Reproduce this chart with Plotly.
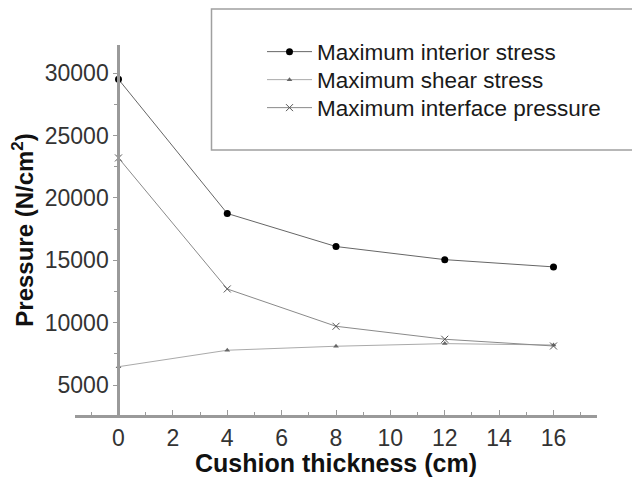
import plotly.graph_objects as go

thickness = [0, 4, 8, 12, 16]
interior_stress = [29500, 18750, 16100, 15050, 14470]
shear_stress = [6470, 7790, 8110, 8320, 8210]
interface_pressure = [23200, 12700, 9710, 8670, 8130]

names = ["Maximum interior stress", "Maximum shear stress", "Maximum interface pressure"]
x_ticks = [0, 2, 4, 6, 8, 10, 12, 14, 16]
y_ticks = [5000, 10000, 15000, 20000, 25000, 30000]

FONT = "Liberation Sans, Arial, sans-serif"

# the page body has an 8px margin, so the figure is drawn 8px smaller
OFF = 8
W, H = 640 - OFF, 477 - OFF
# plot area in reference pixels
PL, PR, PT, PB = 75, 597, 45, 415
L, R, T, B = PL - OFF, 640 - PR, PT - OFF, 477 - PB
pw, ph = W - L - R, H - T - B


def px_x(p):
    return (p - OFF - L) / pw


def px_y(p):
    return (H - B - (p - OFF)) / ph


fig = go.Figure()
fig.add_trace(go.Scatter(
    x=thickness, y=interior_stress, name=names[0], mode="lines+markers",
    line=dict(color="#666666", width=1),
    marker=dict(symbol="circle", size=7, color="#000000"),
    legend="legend"))
fig.add_trace(go.Scatter(
    x=thickness, y=shear_stress, name=names[1], mode="lines+markers",
    line=dict(color="#aaaaaa", width=1),
    marker=dict(symbol="triangle-up", size=5, color="#666666"),
    legend="legend2"))
fig.add_trace(go.Scatter(
    x=thickness, y=interface_pressure, name=names[2], mode="lines+markers",
    line=dict(color="#8a8a8a", width=1),
    marker=dict(symbol="x-thin", size=7, color="#555555", line=dict(width=1, color="#555555")),
    legend="legend3"))

leg_common = dict(xanchor="left", yanchor="middle", bgcolor="rgba(0,0,0,0)",
                  borderwidth=0, itemwidth=45,
                  font=dict(family=FONT, size=22.5, color="#1a1a1a"))

fig.update_layout(
    width=W, height=H,
    margin=dict(l=L, r=R, t=T, b=B, autoexpand=False),
    paper_bgcolor="white", plot_bgcolor="white",
    font=dict(family=FONT, color="#222222"),
    legend=dict(x=px_x(262), y=px_y(52), **leg_common),
    legend2=dict(x=px_x(262), y=px_y(80), **leg_common),
    legend3=dict(x=px_x(262), y=px_y(108), **leg_common),
    xaxis=dict(
        range=[-1.6, 17.6], tickvals=x_ticks, showgrid=False, zeroline=False,
        showline=True, linecolor="#9a9a9a", linewidth=3,
        ticks="inside", ticklen=5, tickcolor="#9a9a9a", tickwidth=1,
        minor=dict(dtick=1, ticks="inside", ticklen=3, tickcolor="#9a9a9a"),
        tickfont=dict(family=FONT, size=23, color="#333333"),
        title=dict(text="<b>Cushion thickness (cm)</b>",
                   font=dict(family=FONT, size=25, color="#111111"), standoff=0),
        automargin=False,
    ),
    yaxis=dict(
        range=[2600, 32250], tickvals=y_ticks, tickformat="d",
        showgrid=False, zeroline=False,
        anchor="free", position=px_x(118.3),
        showline=True, linecolor="#9a9a9a", linewidth=3,
        ticks="outside", ticklen=4, tickcolor="#9a9a9a", tickwidth=1,
        minor=dict(dtick=2500, ticks="outside", ticklen=3, tickcolor="#9a9a9a"),
        tickfont=dict(family=FONT, size=23, color="#333333"),
        title=dict(text="<b>Pressure (N/cm<sup>2</sup>)</b>",
                   font=dict(family=FONT, size=24, color="#111111"), standoff=5),
        automargin=False,
    ),
    shapes=[dict(type="rect", xref="paper", yref="paper",
                 x0=px_x(211.5), x1=px_x(660), y0=px_y(150), y1=px_y(9),
                 line=dict(color="#a0a0a0", width=1.5), fillcolor="rgba(0,0,0,0)", layer="below")],
    showlegend=True,
)

fig.write_html("out.html")
